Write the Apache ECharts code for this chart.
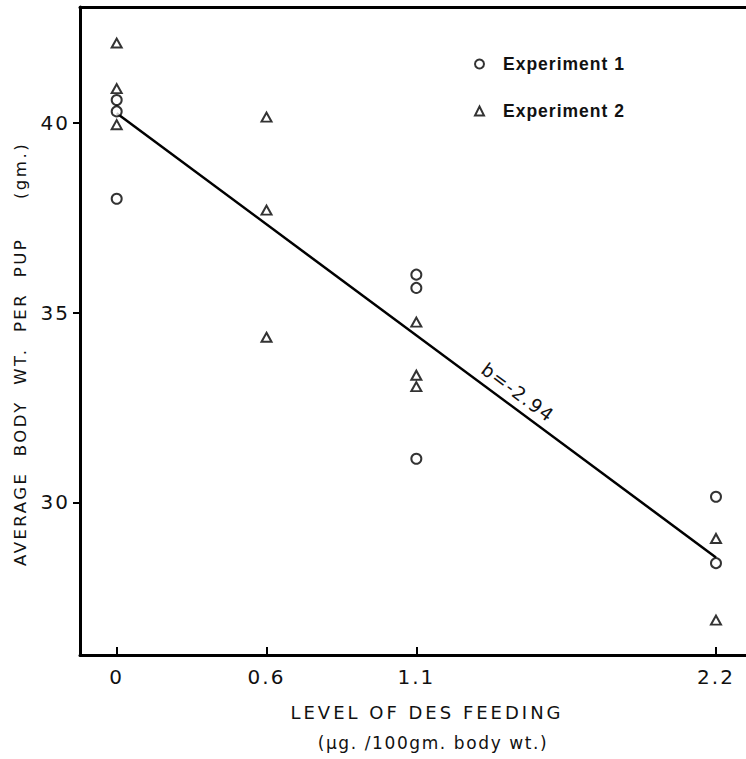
<!DOCTYPE html>
<html>
<head>
<meta charset="utf-8">
<script src="https://cdn.jsdelivr.net/npm/echarts@6/dist/echarts.min.js"></script>
<style>
  html, body { margin: 0; padding: 0; background: #fff; }
  #chart { width: 746px; height: 759px; }
  /* wide tracking of the hand-lettered labels, keyed on their font sizes */
  #chart svg text[style*="20px"]   { letter-spacing: 2px; }
  #chart svg text[style*="18px"]   { letter-spacing: 3px; }
  #chart svg text[style*="17px"]   { letter-spacing: 1.6px; }
  #chart svg text[style*="16.5px"] { letter-spacing: 2.5px; }
  #chart svg text[style*="17.5px"] { letter-spacing: 1px; }
  #chart svg text[style*="18.5px"] { letter-spacing: 1.5px; }
</style>
</head>
<body>
<div id="chart"></div>
<script>
// Dose levels on the x scale (middle level 0.55, printed as "0.6")
const doseTicks = [0, 0.55, 1.1, 2.2];
const doseTickLabels = ['0', '0.6', '1.1', '2.2'];
const weightTicks = [30, 35, 40];

// Experiment 1 (open circles)
const exp1Dose   = [0, 0, 0, 1.1, 1.1, 1.1, 2.2, 2.2];
const exp1Weight = [40.6, 40.3, 38.0, 36.0, 35.65, 31.15, 30.15, 28.4];

// Experiment 2 (open triangles)
const exp2Dose   = [0, 0, 0, 0.55, 0.55, 0.55, 1.1, 1.1, 1.1, 2.2, 2.2];
const exp2Weight = [42.1, 40.9, 39.95, 40.15, 37.7, 34.35, 34.75, 33.35, 33.05, 29.05, 26.9];

// Fitted regression line
const fitDose   = [0, 2.2];
const fitWeight = [40.25, 28.55];
const slopeText = 'b=-2.94';

const seriesNames = ['Experiment 1', 'Experiment 2'];
const xTitle = ['LEVEL OF DES FEEDING', '(\u03bcg. /100gm. body wt.)'];
const yTitle = 'AVERAGE  BODY  WT.  PER  PUP     (gm.)';

const INK = '#000';
const TEXT = '#111';
const FONT = 'DejaVu Sans';

const pairs = (xs, ys) => xs.map((x, i) => [x, ys[i]]);

const chart = echarts.init(document.getElementById('chart'), null, { renderer: 'svg' });

const xRange = { min: -0.1347, max: 2.3102 };

chart.setOption({
  animation: false,
  backgroundColor: '#fff',
  grid: { left: 80, right: 0, top: 7, bottom: 104 },
  xAxis: [{
    type: 'value',
    min: xRange.min, max: xRange.max,
    axisLine: { show: true, onZero: false, lineStyle: { color: INK, width: 3 } },
    axisTick: { show: true, inside: true, length: 8, customValues: doseTicks,
                lineStyle: { color: INK, width: 2 } },
    axisLabel: { customValues: doseTicks, margin: 12, fontSize: 20, fontFamily: FONT, color: TEXT,
                 formatter: v => doseTickLabels[doseTicks.indexOf(Number(v))] },
    splitLine: { show: false }
  }, {
    type: 'value',
    position: 'top',
    min: xRange.min, max: xRange.max,
    axisLine: { show: true, onZero: false, lineStyle: { color: INK, width: 3 } },
    axisTick: { show: false },
    axisLabel: { show: false },
    splitLine: { show: false }
  }],
  yAxis: {
    type: 'value',
    min: 25.98, max: 43.05,
    axisLine: { show: true, onZero: false, lineStyle: { color: INK, width: 3 } },
    axisTick: { show: true, inside: false, length: 7, customValues: weightTicks,
                lineStyle: { color: INK, width: 2 } },
    axisLabel: { customValues: weightTicks, margin: 10, fontSize: 20, fontFamily: FONT, color: TEXT },
    splitLine: { show: false }
  },
  legend: {
    orient: 'vertical',
    left: 474, top: 54,
    padding: 0,
    itemWidth: 9, itemHeight: 9, itemGap: 27,
    data: seriesNames,
    selectedMode: false,
    itemStyle: { borderWidth: 2 },
    textStyle: { fontFamily: 'Liberation Sans', fontWeight: 'bold', fontSize: 17.5,
                 color: TEXT, lineHeight: 20, padding: [0, 0, 0, 14] }
  },
  series: [{
    name: 'Fit',
    type: 'line',
    data: pairs(fitDose, fitWeight),
    symbol: 'none',
    lineStyle: { color: INK, width: 2.5 },
    z: 1
  }, {
    name: seriesNames[0],
    type: 'scatter',
    data: pairs(exp1Dose, exp1Weight),
    symbol: 'emptyCircle',
    symbolSize: 10,
    itemStyle: { color: INK, borderColor: INK, borderWidth: 2 },
    z: 3
  }, {
    name: seriesNames[1],
    type: 'scatter',
    data: pairs(exp2Dose, exp2Weight),
    symbol: 'emptyTriangle',
    symbolSize: [10, 9],
    itemStyle: { color: INK, borderColor: INK, borderWidth: 2 },
    z: 3
  }]
});

// Slope annotation laid along the fitted line, just above it
const p0 = chart.convertToPixel({ xAxisIndex: 0, yAxisIndex: 0 }, [fitDose[0], fitWeight[0]]);
const p1 = chart.convertToPixel({ xAxisIndex: 0, yAxisIndex: 0 }, [fitDose[1], fitWeight[1]]);
const dx = p1[0] - p0[0], dy = p1[1] - p0[1];
const len = Math.hypot(dx, dy);
const t = 0.655, off = 14.5;
const lx = p0[0] + dx * t + (dy / len) * off;
const ly = p0[1] + dy * t - (dx / len) * off;

chart.setOption({
  graphic: [{
    type: 'text', id: 'yTitle', x: 20, y: 354, rotation: Math.PI / 2,
    style: { text: yTitle, fill: TEXT, fontFamily: FONT, fontSize: 16.5,
             align: 'center', verticalAlign: 'middle' }
  }, {
    type: 'text', id: 'xTitle1', x: 427, y: 712,
    style: { text: xTitle[0], fill: TEXT, fontFamily: FONT, fontSize: 18,
             align: 'center', verticalAlign: 'middle' }
  }, {
    type: 'text', id: 'xTitle2', x: 433, y: 743,
    style: { text: xTitle[1], fill: TEXT, fontFamily: FONT, fontSize: 17,
             align: 'center', verticalAlign: 'middle' }
  }, {
    type: 'text', id: 'slope', x: lx, y: ly, rotation: -Math.atan2(dy, dx),
    style: { text: slopeText, fill: TEXT, fontFamily: FONT, fontSize: 18.5,
             align: 'center', verticalAlign: 'middle' }
  }]
});
</script>
</body>
</html>
